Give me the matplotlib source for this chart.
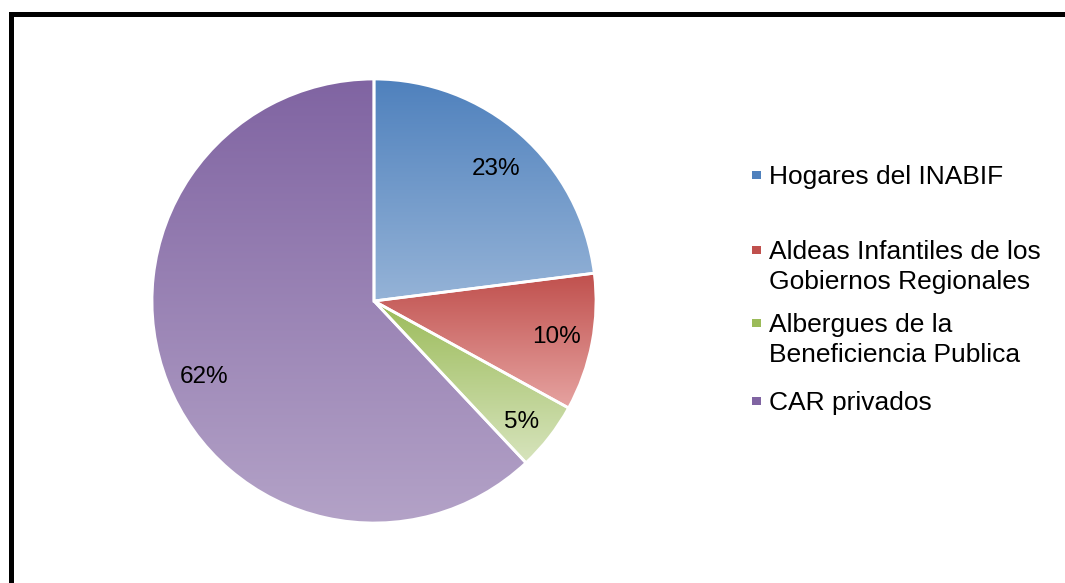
import numpy as np
import matplotlib
matplotlib.use("Agg")
import matplotlib.pyplot as plt
from matplotlib.colors import LinearSegmentedColormap
from matplotlib.patches import Rectangle

plt.rcParams['font.family'] = ['Liberation Sans', 'DejaVu Sans']

categories = ["Hogares del INABIF",
              "Aldeas Infantiles de los\nGobiernos Regionales",
              "Albergues de la\nBeneficiencia Publica",
              "CAR privados"]
values = [23, 10, 5, 62]
top_colors = ["#4F81BD", "#C0504D", "#9BBB59", "#8064A2"]
bottom_colors = ["#95B3D7", "#E6A3A1", "#D7E4BD", "#B3A2C7"]

W, H = 1065, 583
fig = plt.figure(figsize=(W / 100, H / 100), dpi=100)
ax = fig.add_axes([0, 0, 1, 1])
ax.set_xlim(0, W)
ax.set_ylim(0, H)
ax.set_aspect('equal')
ax.axis('off')

cx, cy, r = 374, H - 301, 222
wedges, texts, autotexts = ax.pie(values, center=(cx, cy), radius=r, startangle=90,
                                  counterclock=False, autopct='%1.0f%%', pctdistance=0.82,
                                  wedgeprops=dict(edgecolor='white', linewidth=2),
                                  textprops=dict(fontsize=17.5, color='black'))
ax.set_xlim(0, W)
ax.set_ylim(0, H)

for w, c0, c1 in zip(wedges, top_colors, bottom_colors):
    bb = w.get_path().get_extents(w.get_transform() - ax.transData)
    cmap = LinearSegmentedColormap.from_list('g', [c0, c1])
    grad = np.linspace(0, 1, 256).reshape(-1, 1)
    im = ax.imshow(grad, cmap=cmap, extent=(bb.x0, bb.x1, bb.y0, bb.y1), origin='upper',
                   aspect='auto', zorder=w.get_zorder() - 0.1, interpolation='bilinear')
    im.set_clip_path(w)
    w.set_facecolor('none')

label_shift = [(2, -5), (4, -2), (4, -9), (-1, -9)]
for t, (dx, dy) in zip(autotexts, label_shift):
    x, y = t.get_position()
    t.set_position((x + dx, y + dy))
    t.set_zorder(5)

ax.set_xlim(0, W)
ax.set_ylim(0, H)

# legend (first-line baselines / marker centres in pixel rows)
leg_x_marker = 756.5
leg_x_text = 769
leg_base = [184, 259, 332, 410]
for lab, yb, c0 in zip(categories, leg_base, top_colors):
    ym = yb - 9.5
    ax.add_patch(Rectangle((leg_x_marker - 4.5, H - ym - 4), 9, 8, facecolor=c0, edgecolor='none'))
    lines = lab.split('\n')
    for i, line in enumerate(lines):
        ax.text(leg_x_text, H - (yb + 29.5 * i), line, fontsize=19, va='baseline', ha='left')

# border
ax.add_patch(Rectangle((10.5, -50), 2000, H - 13.5 + 50, fill=False, edgecolor='black',
                       linewidth=3.6, clip_on=False))

fig.savefig('out.png', dpi=100)
